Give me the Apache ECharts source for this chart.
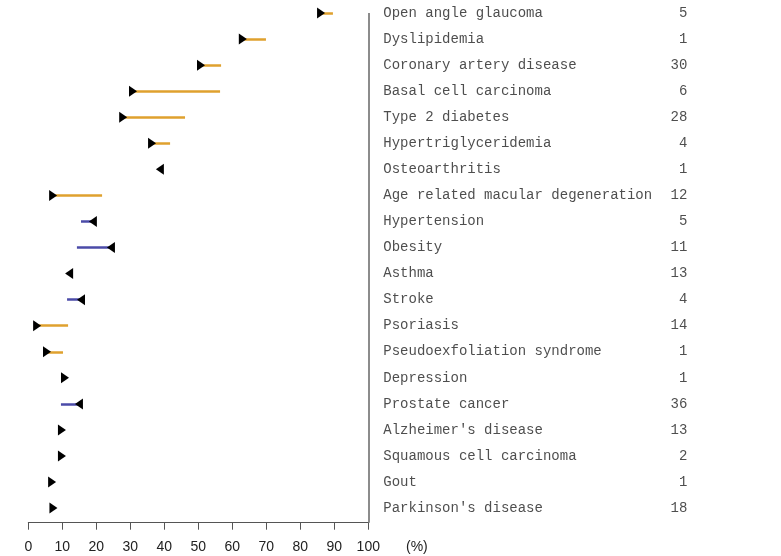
<!DOCTYPE html>
<html>
<head>
<meta charset="utf-8">
<script src="https://cdn.jsdelivr.net/npm/echarts@6/dist/echarts.min.js"></script>
<style>
  html, body { margin: 0; padding: 0; background: #fff; }
  #chart { width: 781px; height: 556px; }
</style>
</head>
<body>
<div id="chart"></div>
<script>
// Conditions, top to bottom
var conditions = [
  'Open angle glaucoma', 'Dyslipidemia', 'Coronary artery disease', 'Basal cell carcinoma',
  'Type 2 diabetes', 'Hypertriglyceridemia', 'Osteoarthritis', 'Age related macular degeneration',
  'Hypertension', 'Obesity', 'Asthma', 'Stroke', 'Psoriasis', 'Pseudoexfoliation syndrome',
  'Depression', 'Prostate cancer', "Alzheimer's disease", 'Squamous cell carcinoma', 'Gout',
  "Parkinson's disease"
];
// Number of loci per condition
var counts = [5, 1, 30, 6, 28, 4, 1, 12, 5, 11, 13, 4, 14, 1, 1, 36, 13, 2, 1, 18];
// Arrowhead position (%)
var headPct = [86.1, 63.1, 50.8, 30.8, 27.9, 36.4, 38.7, 7.3, 19.0, 24.3,
               12.0, 15.5, 2.6, 5.5, 10.8, 14.9, 9.9, 9.9, 7.0, 7.4];
// Other end of the segment (%), null where there is no segment
var tailPct = [89.6, 69.9, 56.7, 56.4, 46.1, 41.7, null, 21.7, 15.5, 14.3,
               null, 11.4, 11.7, 10.2, null, 9.6, null, null, null, null];
// Arrowhead direction: 1 = pointing right, -1 = pointing left
var headDir = [1, 1, 1, 1, 1, 1, -1, 1, -1, -1, -1, -1, 1, 1, 1, -1, 1, 1, 1, 1];
// x-axis ticks
var xTicks = [0, 10, 20, 30, 40, 50, 60, 70, 80, 90, 100];

var UP_COLOR = '#DFA12E';
var DOWN_COLOR = '#4B4BA8';

var segData = [];
conditions.forEach(function (c, i) {
  if (tailPct[i] !== null) {
    segData.push({
      coords: [[headPct[i], i], [tailPct[i], i]],
      lineStyle: { color: headDir[i] > 0 ? UP_COLOR : DOWN_COLOR }
    });
  }
});

var headData = conditions.map(function (c, i) {
  return { value: [headPct[i], i], symbolRotate: headDir[i] > 0 ? -90 : 90 };
});

var labelData = conditions.map(function (c, i) {
  return { value: [100, i], name: c, count: counts[i] };
});

var chart = echarts.init(document.getElementById('chart'), null, { renderer: 'canvas' });
chart.setOption({
  animation: false,
  backgroundColor: '#fff',
  grid: { left: 28.3, right: 412.7, top: 0, bottom: 33.3, containLabel: false },
  xAxis: {
    type: 'value', min: xTicks[0], max: xTicks[xTicks.length - 1], interval: 10,
    name: '(%)', nameLocation: 'end', nameGap: 37.7,
    nameTextStyle: { fontFamily: 'Liberation Sans', fontSize: 14, color: '#222',
                     verticalAlign: 'top', padding: [17, 0, 0, 0] },
    axisLine: { show: true, onZero: false, lineStyle: { color: '#555', width: 1 } },
    axisTick: { show: true, length: 7, lineStyle: { color: '#555', width: 1 } },
    axisLabel: { margin: 17, fontFamily: 'Liberation Sans', fontSize: 14, color: '#222' },
    splitLine: { show: false }
  },
  yAxis: {
    type: 'value', inverse: true, min: -0.5, max: 19.56,
    show: false, splitLine: { show: false }
  },
  series: [
    {
      type: 'lines', coordinateSystem: 'cartesian2d', z: 2,
      lineStyle: { width: 2.5, opacity: 1 },
      data: segData,
      markLine: {
        silent: true, symbol: 'none', label: { show: false },
        lineStyle: { color: '#666', width: 1.5, type: 'solid' },
        data: [[{ coord: [100, 0] }, { coord: [100, 19.56] }]]
      }
    },
    {
      type: 'scatter', z: 3,
      symbol: 'triangle', symbolSize: [11, 8],
      itemStyle: { color: '#000', opacity: 1 },
      data: headData
    },
    {
      type: 'scatter', symbolSize: 0, silent: true,
      data: labelData,
      label: {
        show: true, position: 'right', distance: 15,
        formatter: function (p) { return '{n|' + p.data.name + '}{c|' + p.data.count + '}'; },
        rich: {
          n: { width: 270, fontFamily: 'Liberation Mono', fontSize: 14, color: '#222' },
          c: { width: 34, align: 'right', fontFamily: 'Liberation Mono', fontSize: 14, color: '#222' }
        }
      }
    }
  ]
});
</script>
</body>
</html>
